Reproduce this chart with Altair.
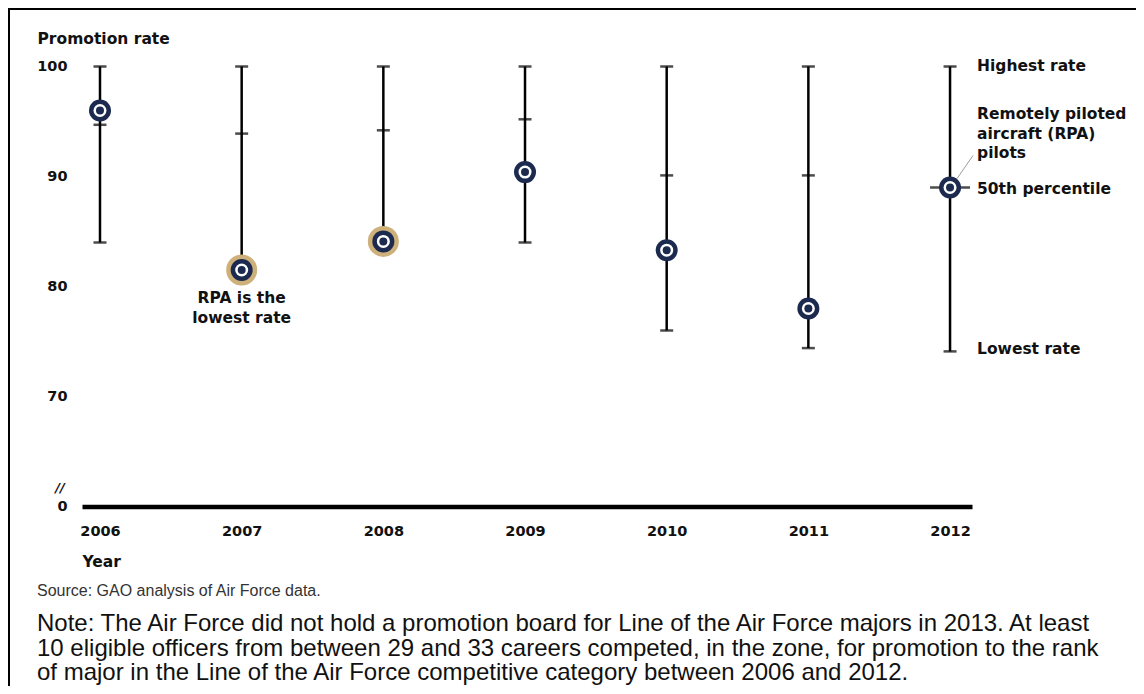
import altair as alt
import pandas as pd

# ---------------- data ----------------
years = [2006, 2007, 2008, 2009, 2010, 2011, 2012]
highest = [100, 100, 100, 100, 100, 100, 100]
median = [94.7, 93.9, 94.2, 95.2, 90.1, 90.1, 89.0]
lowest = [84.0, 81.5, 84.1, 84.0, 76.0, 74.4, 74.1]
rpa = [96.0, 81.5, 84.1, 90.4, 83.3, 78.0, 89.0]
rpa_is_lowest = [False, True, True, False, False, False, False]

y_tick_values = [60, 70, 80, 90, 100]
source_text = "Source: GAO analysis of Air Force data."
note_lines = [
    "Note: The Air Force did not hold a promotion board for Line of the Air Force majors in 2013. At least",
    "10 eligible officers from between 29 and 33 careers competed, in the zone, for promotion to the rank",
    "of major in the Line of the Air Force competitive category between 2006 and 2012.",
]

df = pd.DataFrame({
    "year": years, "high": highest, "med": median,
    "low": lowest, "rpa": rpa, "lowest": rpa_is_lowest,
})

# ---------------- styling ----------------
FONT = "DejaVu Sans"
TXT = "#111111"
NAVY = "#1b2a4e"
GOLD = "#cdb07a"

xscale = alt.Scale(domain=[2005.873, 2012.155], nice=False, zero=False)
yscale = alt.Scale(domain=[60, 100], nice=False, zero=False)

xaxis = alt.Axis(
    values=years, format="d", title="Year", grid=False, ticks=False,
    domain=True, domainColor="black", domainWidth=4.5,
    labelFont=FONT, labelFontWeight="bold", labelFontSize=14.5, labelColor=TXT,
    labelPadding=18,
    titleFont=FONT, titleFontWeight="bold", titleFontSize=15.5, titleColor=TXT,
    titleX=0, titleY=54.5, titleAlign="left", titleBaseline="middle",
)
yaxis = alt.Axis(
    values=y_tick_values, labelExpr="datum.value == 60 ? '0' : datum.label",
    title="Promotion rate", grid=False, ticks=False, tickSize=0, domain=False,
    labelFont=FONT, labelFontWeight="bold", labelFontSize=14.5, labelColor=TXT,
    labelPadding=15,
    titleFont=FONT, titleFontWeight="bold", titleFontSize=15.5, titleColor=TXT,
    titleAngle=0, titleX=-45, titleY=-28.5, titleAlign="left", titleBaseline="middle",
)

X = alt.X("year:Q", scale=xscale, axis=xaxis)


def Y(field):
    return alt.Y(field, scale=yscale, axis=yaxis)


base = alt.Chart(df)

# error bars (lowest -> highest)
bars = base.mark_rule(color="black", strokeWidth=2.5).encode(
    x=X, y=Y("low:Q"), y2="high:Q")
cap_high = base.mark_tick(orient="horizontal", size=13, thickness=2.5, color="black").encode(
    x=X, y=Y("high:Q"))
cap_low = base.mark_tick(orient="horizontal", size=13, thickness=2.5, color="black").encode(
    x=X, y=Y("low:Q"))
cap_med = base.mark_tick(orient="horizontal", thickness=2.5, color="black").encode(
    x=X, y=Y("med:Q"),
    size=alt.condition("datum.year == 2012", alt.value(40), alt.value(13)))

# RPA markers
halo = base.transform_filter("datum.lowest").mark_circle(size=961, color=GOLD, opacity=1).encode(
    x=X, y=Y("rpa:Q"))
ring = base.mark_circle(size=484, color=NAVY, opacity=1).encode(x=X, y=Y("rpa:Q"))
inner = base.mark_circle(size=169, color="white", opacity=1).encode(x=X, y=Y("rpa:Q"))
dot = base.mark_circle(size=64, color=NAVY, opacity=1).encode(x=X, y=Y("rpa:Q"))

# leader line from the 2012 marker to its label
leader = base.transform_filter("datum.year == 2012").mark_rule(
    color="#9a9a9a", strokeWidth=1, xOffset=7, yOffset=-9, x2Offset=23, y2Offset=-32
).encode(x=X, y=Y("rpa:Q"), x2="year:Q", y2="rpa:Q")


def ann(text, field, year, dy, dx=0, align="left"):
    return base.transform_filter(f"datum.year == {year}").mark_text(
        font=FONT, fontWeight="bold", fontSize=15.5, color=TXT,
        align=align, baseline="middle", dx=dx, dy=dy,
    ).encode(x=X, y=Y(field), text=alt.value(text))


labels = [
    ann("Highest rate", "high:Q", 2012, -1, dx=27),
    ann("Remotely piloted", "rpa:Q", 2012, -73.5, dx=27),
    ann("aircraft (RPA)", "rpa:Q", 2012, -53.5, dx=27),
    ann("pilots", "rpa:Q", 2012, -34.5, dx=27),
    ann("50th percentile", "med:Q", 2012, 1.5, dx=27),
    ann("Lowest rate", "low:Q", 2012, -2, dx=27),
    ann("RPA is the", "rpa:Q", 2007, 28, align="center"),
    ann("lowest rate", "rpa:Q", 2007, 48, align="center"),
]

one = alt.Data(values=[{"k": 1}])

# axis break mark
brk = alt.Chart(one).mark_text(
    font=FONT, fontWeight="bold", fontStyle="italic", fontSize=13, color=TXT,
    align="center", baseline="middle",
).encode(x=alt.value(-22), y=alt.value(421.5), text=alt.value("//"))

# source and note
src = alt.Chart(one).mark_text(
    font="Liberation Sans", fontSize=16, color="#333333", align="left", baseline="middle",
).encode(x=alt.value(-45), y=alt.value(524.5), text=alt.value(source_text))

notes = [
    alt.Chart(one).mark_text(
        font="Liberation Sans", fontSize=24, color="#111111", align="left", baseline="middle",
    ).encode(x=alt.value(-45), y=alt.value(557.5 + 24.5 * i), text=alt.value(line))
    for i, line in enumerate(note_lines)
]

# frame (top and left border)
frame_top = alt.Chart(one).mark_rule(color="black", strokeWidth=2).encode(
    x=alt.value(-74), x2=alt.value(1060), y=alt.value(-57.5))
frame_left = alt.Chart(one).mark_rule(color="black", strokeWidth=2).encode(
    x=alt.value(-73), y=alt.value(-58.5), y2=alt.value(625))

chart = alt.layer(
    frame_top, frame_left,
    bars, cap_high, cap_low, cap_med,
    halo, ring, inner, dot, leader,
    *labels, brk, src, *notes,
).properties(
    width=890, height=440,
    autosize=alt.AutoSizeParams(type="none"),
    padding={"left": 74, "top": 58.5, "right": 164, "bottom": 179.5},
).configure_view(strokeWidth=0)

chart.save("out.html", embed_options={"renderer": "svg", "actions": False})
